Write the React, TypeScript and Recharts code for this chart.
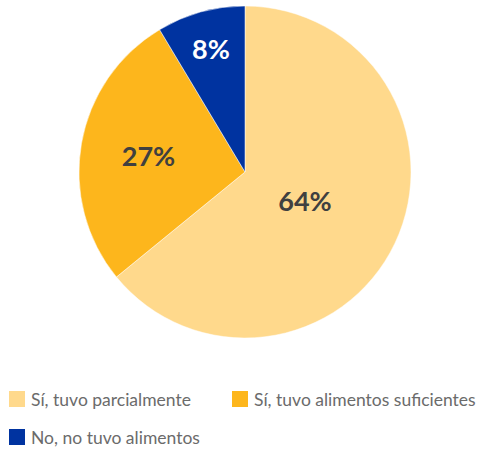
import React from "react";
import { PieChart, Pie, Cell } from "recharts";

const categories = [
  "Sí, tuvo parcialmente",
  "Sí, tuvo alimentos suficientes",
  "No, no tuvo alimentos",
];
const values = [64.1, 27.3, 8.6];
const valueLabels = ["64%", "27%", "8%"];
const colors = ["#FFD98C", "#FDB61C", "#0033A0"];
const labelColors = ["#404040", "#404040", "#FFFFFF"];
const labelRadiusRatio = [0.4, 0.59, 0.77];

const data = categories.map((name, i) => ({ name, value: values[i], label: valueLabels[i] }));

const RADIAN = Math.PI / 180;
const renderLabel = (props: any) => {
  const { cx, cy, midAngle, outerRadius, index } = props;
  const r = outerRadius * labelRadiusRatio[index];
  const x = cx + r * Math.cos(-midAngle * RADIAN);
  const y = cy + r * Math.sin(-midAngle * RADIAN);
  return (
    <text
      x={x}
      y={y}
      fill={labelColors[index]}
      textAnchor="middle"
      dominantBaseline="central"
      fontFamily="Lato, 'Open Sans', sans-serif"
      fontWeight={700}
      fontSize={27}
    >
      {data[index].label}
    </text>
  );
};

const LegendBlock = () => (
  <div
    style={{
      position: "absolute",
      left: 0,
      top: 380,
      display: "flex",
      flexWrap: "wrap",
      width: 480,
      fontFamily: "Lato, 'Open Sans', sans-serif",
      fontSize: 17.5,
      color: "#6B6B6B",
    }}
  >
    {categories.map((c, i) => (
      <div
        key={c}
        style={{
          display: "flex",
          alignItems: "center",
          width: i === 0 ? 223 : i === 1 ? 257 : 300,
          height: 38,
          paddingLeft: 9,
          boxSizing: "border-box",
        }}
      >
        <span
          style={{
            display: "inline-block",
            width: 16,
            height: 16,
            background: colors[i],
            marginRight: 6,
            flexShrink: 0,
          }}
        />
        <span style={{ whiteSpace: "nowrap" }}>{c}</span>
      </div>
    ))}
  </div>
);

export default function App() {
  return (
    <div style={{ position: "absolute", left: 0, top: 0, width: 480, height: 452, background: "#fff" }}>
      <PieChart width={480} height={360} margin={{ top: 0, right: 0, bottom: 0, left: 0 }}>
        <Pie
          data={data}
          dataKey="value"
          nameKey="name"
          cx={245}
          cy={172}
          outerRadius={166}
          startAngle={90}
          endAngle={-270}
          stroke="#ffffff"
          strokeWidth={0.5}
          label={renderLabel}
          labelLine={false}
          isAnimationActive={false}
        >
          {data.map((d, i) => (
            <Cell key={d.name} fill={colors[i]} />
          ))}
        </Pie>
      </PieChart>
      <LegendBlock />
    </div>
  );
}
